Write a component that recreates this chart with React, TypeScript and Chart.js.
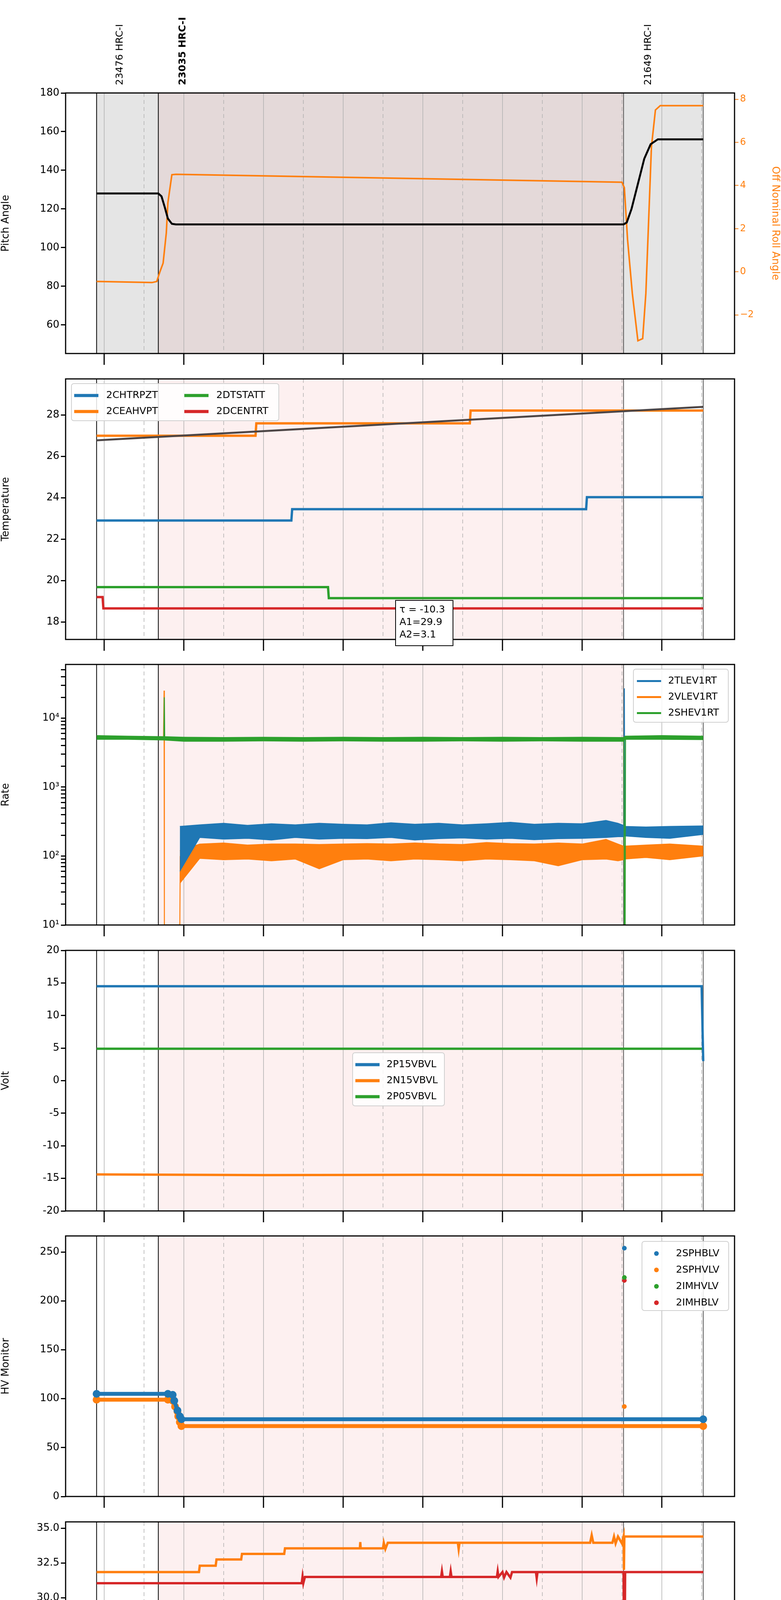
import React, { useEffect, useRef } from "react";
import { Chart, registerables } from "chart.js";
Chart.register(...registerables);

const FONT = "'DejaVu Sans', sans-serif";
const BLUE = "#1f77b4", ORANGE = "#ff7f0e", GREEN = "#2ca02c", RED = "#d62728";

const X_MIN = 15.516, X_MAX = 23.913;
const xTicks = [16, 16.5, 17, 17.5, 18, 18.5, 19, 19.5, 20, 20.5, 21, 21.5, 22, 22.5, 23, 23.5];
const xHourLabels = ["16h", "17h", "18h", "19h", "20h", "21h", "22h", "23h"];
const xMinorLabel = "30";
const xTitle = "2021-03-02 (061)";
const blackLines = [15.905, 16.68];
const grayLines = [22.52, 23.52];
const obsStart = 15.905, obsMid1 = 16.68, obsMid2 = 22.52, obsEnd = 23.52;
const obsLabels = ["23476 HRC-I", "23035 HRC-I", "21649 HRC-I"];
const obsLabelX = [16.2, 16.99, 22.83];
const obsLabelBold = [false, true, false];

// Panel 1
const pitch = [[15.905,128],[16.68,128],[16.72,126.5],[16.76,121],[16.8,115],[16.85,112.3],[16.9,112],[22.52,112],[22.56,113],[22.62,120],[22.7,133],[22.78,146],[22.86,153.5],[22.95,156],[23.52,156]];
const roll = [[15.905,-0.45],[16.6,-0.5],[16.66,-0.45],[16.7,0.0],[16.74,0.4],[16.78,1.8],[16.8,3.2],[16.85,4.5],[16.9,4.52],[22.5,4.15],[22.53,3.9],[22.57,1.5],[22.63,-1],[22.7,-3.2],[22.76,-3.1],[22.8,-1],[22.87,5.8],[22.92,7.5],[22.98,7.7],[23.52,7.7]];
const pitchTicks = [60, 80, 100, 120, 140, 160, 180];
const rollTicks = [-2, 0, 2, 4, 6, 8];

// Panel 2
const chtrpzt = [[15.905,22.9],[18.35,22.9],[18.36,23.45],[22.05,23.45],[22.06,24.03],[23.52,24.03]];
const ceahvpt = [[15.905,27.0],[17.9,27.0],[17.91,27.6],[20.59,27.6],[20.6,28.22],[23.52,28.22]];
const dtstatt = [[15.905,19.68],[18.81,19.68],[18.82,19.15],[23.52,19.15]];
const dcentrt = [[15.905,19.2],[15.98,19.2],[15.99,18.65],[23.52,18.65]];
const tempFit = [[15.905,26.78],[23.52,28.4]];
const tempTicks = [18, 20, 22, 24, 26, 28];
const fitText = ["\u03c4 = -10.3", "A1=29.9", "A2=3.1"];

// Panel 3 (rate envelopes, min/max)
const tlevT = [16.95,17.2,17.5,17.8,18.1,18.4,18.7,19.0,19.3,19.6,19.9,20.2,20.5,20.8,21.1,21.4,21.7,22.0,22.3,22.45,22.52,22.53,22.8,23.1,23.52];
const tlevHi = [270,285,300,280,295,285,300,290,285,305,290,300,285,295,310,290,300,295,330,300,280,270,265,270,275];
const tlevLo = [60,185,175,180,170,185,175,180,178,185,170,178,182,175,180,172,178,180,185,190,190,195,185,180,205];
const vlevHi = [120,150,155,145,150,150,148,150,152,150,155,150,148,158,152,150,155,150,175,150,140,140,145,150,140];
const vlevLo = [40,92,88,90,85,90,65,88,90,85,90,88,85,90,88,85,72,88,90,85,88,90,95,88,100];
const shevT = [15.905,16.3,16.75,17.0,17.5,18.0,18.5,19.0,19.5,20.0,20.5,21.0,21.5,22.0,22.52,22.54,23.0,23.52];
const shevHi = [5600,5500,5400,5300,5250,5300,5250,5300,5250,5300,5250,5300,5250,5300,5250,5500,5600,5500];
const shevLo = [4900,4900,4800,4600,4600,4650,4600,4650,4600,4600,4650,4600,4650,4600,4600,4900,4900,4850];
const vlevSpike = [[16.745,5000],[16.752,25000],[16.756,10],[16.95,10],[16.955,100]];
const shevSpike = [[16.75,5000],[16.755,20000],[16.76,5000]];
const tlevSpike = [[22.525,250],[22.53,27000],[22.535,250]];
const shevDrop = [[22.525,5000],[22.53,10],[22.54,10],[22.545,5000]];
const rateTicks = [10,20,30,40,50,60,70,80,90,100,200,300,400,500,600,700,800,900,1000,2000,3000,4000,5000,6000,7000,8000,9000,10000,20000,30000,40000,50000];
const rateLabels: Record<number, string> = { 10: "10\u00b9", 100: "10\u00b2", 1000: "10\u00b3", 10000: "10\u2074" };

// Panel 4
const p15 = [[15.905,14.5],[23.5,14.5],[23.52,3.0]];
const n15 = [[15.905,-14.4],[18.0,-14.5],[20.0,-14.45],[22.0,-14.5],[23.52,-14.45]];
const p05 = [[15.905,4.9],[23.52,4.9]];
const voltTicks = [-20, -15, -10, -5, 0, 5, 10, 15, 20];

// Panel 5
const sphblv = [[15.905,105],[16.8,105],[16.86,104],[16.88,98],[16.92,88],[16.95,82],[16.97,79],[23.52,79]];
const sphvlv = [[15.905,99],[16.8,99],[16.86,98],[16.89,92],[16.92,87],[16.93,82],[16.95,76],[16.97,72],[23.52,72]];
const sphblvOut = [[22.53,254]];
const sphvlvOut = [[22.53,92]];
const imhvlv = [[22.53,224]];
const imhblv = [[22.53,221]];
const hvTicks = [0, 50, 100, 150, 200, 250];

// Panel 6
const spinatm = [[15.905,18.25],[16.66,18.25],[16.67,17.65],[18.0,17.65],[18.01,18.2],[18.05,17.7],[18.08,18.25],[18.12,17.7],[18.15,18.2],[18.28,18.2],[18.29,17.5],[18.3,18.25],[22.52,18.25],[22.525,16.7],[22.535,16.7],[22.54,18.25],[23.52,18.25]];
const sphvatm = [[15.905,31.85],[17.19,31.85],[17.2,32.3],[17.4,32.3],[17.41,32.75],[17.72,32.75],[17.73,33.15],[18.26,33.15],[18.27,33.55],[19.21,33.55],[19.215,34.0],[19.22,33.55],[19.5,33.55],[19.51,33.95],[19.53,33.5],[19.56,33.95],[20.44,33.95],[20.45,33.5],[20.46,33.95],[22.1,33.95],[22.12,34.5],[22.14,33.95],[22.38,33.95],[22.4,34.4],[22.42,33.9],[22.45,34.4],[22.5,33.9],[22.52,34.4],[22.525,32.0],[22.53,34.4],[23.52,34.4]];
const iminatm = [[15.905,19.6],[17.95,19.6],[17.96,18.85],[17.97,19.6],[18.5,19.6],[18.52,18.9],[18.55,19.65],[18.58,18.9],[18.6,19.65],[18.63,18.9],[18.66,19.65],[18.7,18.9],[18.74,19.65],[18.78,18.9],[18.82,19.6],[18.85,18.9],[22.52,18.9],[22.535,21.0],[22.55,18.9],[23.52,18.9]];
const imhvatm = [[15.905,31.05],[18.48,31.05],[18.49,31.5],[18.5,31.05],[18.52,31.5],[20.23,31.5],[20.24,31.9],[20.25,31.5],[20.34,31.5],[20.35,31.9],[20.36,31.5],[20.93,31.5],[20.94,31.9],[20.95,31.5],[21.0,31.85],[21.02,31.45],[21.05,31.85],[21.1,31.45],[21.12,31.85],[21.42,31.85],[21.43,31.4],[21.44,31.85],[22.52,31.85],[22.53,22.6],[22.54,31.85],[23.52,31.85]];
const detTicks = [17.5, 20, 22.5, 25, 27.5, 30, 32.5, 35];

// Panel 7
const fhtrmzt = [[15.905,22.35],[17.5,22.35],[17.51,21.8],[19.12,21.8],[19.13,21.25],[21.78,21.25],[21.79,20.7],[23.28,20.7],[23.29,21.25],[23.52,21.25]];
const fradpyt = [[15.905,17.65],[17.17,17.65],[17.18,17.15],[18.06,17.15],[18.07,16.67],[19.69,16.67],[19.7,16.18],[23.17,16.18],[23.18,16.67],[23.52,16.67]];
const fepratm = [[15.905,23.87],[18.85,23.87],[18.86,23.13],[22.48,23.13],[22.49,22.4],[22.5,23.13],[22.7,23.13],[22.71,22.4],[22.73,23.13],[22.76,22.4],[22.79,23.13],[22.82,22.4],[22.84,23.13],[22.9,23.13],[22.91,22.4],[22.93,23.13],[23.52,23.13]];
const fe00atm = [[15.905,22.33],[17.02,22.33],[17.03,22.0],[17.06,22.0],[17.07,21.7],[17.08,22.0],[17.1,22.0],[17.11,20.1],[17.12,22.0],[17.15,22.0],[17.16,21.4],[17.17,22.0],[17.42,22.0],[17.43,23.65],[17.44,22.0],[17.45,21.4],[17.46,22.0],[17.75,22.0],[17.76,22.65],[17.77,22.0],[18.05,22.0],[18.06,21.7],[18.1,22.0],[18.12,21.73],[18.14,21.4],[18.15,21.73],[18.35,21.73],[18.36,22.05],[18.37,21.73],[18.44,21.73],[18.45,19.85],[18.46,21.73],[18.5,21.73],[18.51,22.35],[18.52,21.73],[18.57,21.73],[18.58,23.0],[18.59,21.73],[18.75,21.73],[18.76,23.0],[18.77,21.73],[18.9,21.73],[18.91,22.05],[18.92,21.73],[19.05,21.73],[19.06,20.75],[19.07,21.73],[19.15,21.73],[19.16,21.4],[19.17,21.73],[19.35,21.73],[19.36,21.3],[19.37,21.73],[19.43,21.73],[19.44,20.8],[19.45,21.4],[19.55,21.4],[19.56,20.45],[19.57,21.4],[20.0,21.4],[20.01,22.35],[20.02,21.4],[20.04,21.4],[20.05,20.45],[20.06,21.4],[20.45,21.4],[20.47,22.35],[20.49,21.4],[20.95,21.4],[20.96,21.05],[20.97,21.4],[21.1,21.4],[21.11,21.05],[21.12,21.4],[21.18,21.4],[21.19,22.65],[21.2,21.1],[21.37,21.1],[21.38,20.45],[21.39,21.1],[21.43,21.1],[21.44,21.4],[21.45,21.1],[22.15,21.1],[22.16,20.75],[22.17,21.4],[22.18,21.1],[22.25,21.1],[22.26,22.35],[22.27,21.1],[22.37,21.1],[22.38,21.7],[22.39,21.1],[22.53,21.1],[22.54,25.5],[22.55,21.1],[22.82,21.1],[22.83,21.7],[22.84,21.1],[23.5,21.1],[23.52,21.45]];
const feaTicks = [16, 18, 20, 22, 24];

const pts = (a: any[]) => a.map(([x, y]) => ({ x, y }));
const zip = (t: number[], v: number[]) => t.map((x, i) => [x, v[i]]);

const line = (label: string, data: any, color: string, w = 6, extra: any = {}) => ({
  label, data: pts(data), borderColor: color, backgroundColor: color, borderWidth: w,
  pointRadius: 0, tension: 0, fill: false, ...extra,
});

type Leg = { items: { label: string; color: string; dot?: boolean; w?: number }[]; x: number; y: number; w: number; h: number; cols: number; colW: number; rowH: number; lineX: number; textX: number };

function tickBuilder(vals: number[]) {
  return (s: any) => { s.ticks = vals.map((v) => ({ value: v })); };
}

function makeDeco(p: any) {
  return {
    id: "deco",
    beforeDatasetsDraw(chart: any) {
      const { ctx, chartArea: a, scales } = chart;
      const x = scales.x;
      const px = (v: number) => x.getPixelForValue(v);
      ctx.save();
      if (p.top) {
        ctx.fillStyle = "#e5e5e5";
        ctx.fillRect(px(obsStart), a.top, px(obsMid1) - px(obsStart), a.bottom - a.top);
        ctx.fillRect(px(obsMid2), a.top, px(obsEnd) - px(obsMid2), a.bottom - a.top);
        ctx.fillStyle = "#e4d9d9";
        ctx.fillRect(px(obsMid1), a.top, px(obsMid2) - px(obsMid1), a.bottom - a.top);
      } else {
        ctx.fillStyle = "#fdf0f0";
        ctx.fillRect(px(obsMid1), a.top, px(obsMid2) - px(obsMid1), a.bottom - a.top);
      }
      xTicks.forEach((v) => {
        ctx.beginPath();
        ctx.strokeStyle = "#b0b0b0";
        ctx.lineWidth = 1.5;
        ctx.setLineDash(v % 1 === 0 ? [] : [10, 8]);
        ctx.moveTo(px(v), a.top); ctx.lineTo(px(v), a.bottom); ctx.stroke();
      });
      ctx.setLineDash([]);
      blackLines.forEach((v) => {
        ctx.beginPath(); ctx.strokeStyle = "#000"; ctx.lineWidth = 2;
        ctx.moveTo(px(v), a.top); ctx.lineTo(px(v), a.bottom); ctx.stroke();
      });
      grayLines.forEach((v) => {
        ctx.beginPath(); ctx.strokeStyle = "#555"; ctx.lineWidth = 2;
        ctx.moveTo(px(v), a.top); ctx.lineTo(px(v), a.bottom); ctx.stroke();
      });
      ctx.restore();
    },
    afterDatasetsDraw(chart: any) {
      const { ctx, chartArea: a, scales } = chart;
      ctx.save();
      ctx.strokeStyle = "#000"; ctx.lineWidth = 3;
      ctx.strokeRect(a.left, a.top, a.right - a.left, a.bottom - a.top);
      xTicks.forEach((v) => {
        if (v % 1 !== 0) return;
        const xx = scales.x.getPixelForValue(v);
        ctx.beginPath(); ctx.lineWidth = 3; ctx.strokeStyle = "#000";
        ctx.moveTo(xx, a.bottom); ctx.lineTo(xx, a.bottom + 29); ctx.stroke();
      });
      if (p.top) {
        obsLabels.forEach((t, i) => {
          ctx.save();
          ctx.translate(scales.x.getPixelForValue(obsLabelX[i]), a.top - 20);
          ctx.rotate(-Math.PI / 2);
          ctx.font = (obsLabelBold[i] ? "bold " : "") + "25px " + FONT;
          ctx.fillStyle = "#000"; ctx.textAlign = "left"; ctx.textBaseline = "middle";
          ctx.fillText(t, 0, 0);
          ctx.restore();
        });
      }
      if (p.fitBox) {
        const b = p.fitBox;
        ctx.fillStyle = "#fff"; ctx.fillRect(b.x, b.y, b.w, b.h);
        ctx.strokeStyle = "#000"; ctx.lineWidth = 2; ctx.strokeRect(b.x, b.y, b.w, b.h);
        ctx.fillStyle = "#000"; ctx.font = "25px " + FONT; ctx.textBaseline = "middle"; ctx.textAlign = "left";
        fitText.forEach((t, i) => ctx.fillText(t, b.x + 10, b.y + 24 + i * 32));
      }
      const L: Leg = p.legend;
      if (L) {
        ctx.fillStyle = "rgba(255,255,255,0.85)";
        ctx.strokeStyle = "#d0d0d0"; ctx.lineWidth = 2;
        ctx.beginPath();
        (ctx as any).roundRect ? (ctx as any).roundRect(L.x, L.y, L.w, L.h, 6) : ctx.rect(L.x, L.y, L.w, L.h);
        ctx.fill(); ctx.stroke();
        const rows = Math.ceil(L.items.length / L.cols);
        L.items.forEach((it, i) => {
          const col = Math.floor(i / rows), row = i % rows;
          const yy = L.y + L.rowH / 2 + 10 + row * L.rowH;
          const lx = L.lineX + col * L.colW;
          ctx.fillStyle = it.color; ctx.strokeStyle = it.color;
          if (it.dot) {
            ctx.beginPath(); ctx.arc(lx + 8, yy, 6, 0, Math.PI * 2); ctx.fill();
          } else {
            ctx.lineWidth = it.w || 8;
            ctx.beginPath(); ctx.moveTo(lx, yy); ctx.lineTo(lx + 62, yy); ctx.stroke();
          }
          ctx.fillStyle = "#000"; ctx.font = "25px " + FONT; ctx.textBaseline = "middle"; ctx.textAlign = "left";
          ctx.fillText(it.label, L.textX + col * L.colW, yy);
        });
      }
      ctx.restore();
    },
  };
}

function yScale(title: string, ticks: number[], min: number, max: number, extra: any = {}, fmt?: (v: number) => string) {
  return {
    type: "linear", position: "left", min, max,
    afterBuildTicks: tickBuilder(ticks),
    afterFit: (s: any) => { s.width = 168; },
    grid: { drawOnChartArea: false, drawTicks: true, tickLength: 12, tickWidth: 3, tickColor: "#000" },
    border: { display: false },
    ticks: { color: "#000", font: { family: FONT, size: 26 }, padding: 4, autoSkip: false, callback: (v: number) => (fmt ? fmt(v) : String(v)) },
    title: { display: true, text: title, color: "#000", font: { family: FONT, size: 26 }, padding: { top: 0, bottom: 4 } },
    ...extra,
  };
}

function xScale(last: boolean, axisH: number) {
  return {
    type: "linear", min: X_MIN, max: X_MAX,
    afterBuildTicks: tickBuilder(xTicks),
    afterFit: (s: any) => { s.height = axisH; },
    grid: { drawOnChartArea: false, drawTicks: true, tickLength: 8, tickWidth: 0, tickColor: "rgba(0,0,0,0)" },
    border: { display: false },
    ticks: {
      display: last, autoSkip: false, maxRotation: 0, color: "#000", padding: 0,
      font: (c: any) => (c.tick && c.tick.value % 1 === 0 ? { family: FONT, size: 27, lineHeight: 1.05 } : { family: FONT, size: 17 }),
      callback: (v: number) => (v % 1 === 0 ? ["", xHourLabels[v - 16]] : xMinorLabel),
    },
    title: { display: last, text: xTitle, color: "#000", font: { family: FONT, size: 34 }, padding: { top: 0, bottom: 4 } },
  };
}

const PLOT_H = 667;
const panels: any[] = [
  {
    key: "p1", top: true, plotTop: 238, canvasTop: 0, axisH: 73,
    datasets: [line("pitch", pitch, "#000", 5, { yAxisID: "y" }), line("roll", roll, ORANGE, 4, { yAxisID: "y2" })],
    y: yScale("Pitch Angle", pitchTicks, 45.2, 180),
    y2: {
      type: "linear", position: "right", min: -3.79, max: 8.29,
      afterBuildTicks: tickBuilder(rollTicks),
      afterFit: (s: any) => { s.width = 119; },
      grid: { drawOnChartArea: false, drawTicks: true, tickLength: 10, tickWidth: 2, tickColor: ORANGE },
      border: { display: false },
      ticks: { color: ORANGE, font: { family: FONT, size: 24 }, padding: 4, callback: (v: number) => (v < 0 ? "\u2212" + -v : String(v)) },
      title: { display: true, text: "Off Nominal Roll Angle", color: ORANGE, font: { family: FONT, size: 26 }, padding: 0 },
    },
  },
  {
    key: "p2", plotTop: 970, axisH: 73,
    datasets: [line("fit", tempFit, "#4d4646", 5), line("2CHTRPZT", chtrpzt, BLUE), line("2CEAHVPT", ceahvpt, ORANGE), line("2DTSTATT", dtstatt, GREEN), line("2DCENTRT", dcentrt, RED)],
    y: yScale("Temperature", tempTicks, 17.15, 29.75),
    legend: { items: [{ label: "2CHTRPZT", color: BLUE }, { label: "2CEAHVPT", color: ORANGE }, { label: "2DTSTATT", color: GREEN }, { label: "2DCENTRT", color: RED }], x: 183, y: 982, w: 531, h: 95, cols: 2, colW: 282, rowH: 41, lineX: 190, textX: 272 },
    fitBox: { x: 1013, y: 1537, w: 147, h: 116 },
  },
  {
    key: "p3", plotTop: 1701, axisH: 73,
    datasets: [
      { ...line("shevHi", zip(shevT, shevHi), GREEN, 1.5), fill: "+1", backgroundColor: GREEN },
      line("shevLo", zip(shevT, shevLo), GREEN, 1.5),
      line("shevSpike", shevSpike, GREEN, 2.5),
      line("shevDrop", shevDrop, GREEN, 2.5),
      { ...line("tlevHi", zip(tlevT, tlevHi), BLUE, 1.5), fill: "+1", backgroundColor: BLUE },
      line("tlevLo", zip(tlevT, tlevLo), BLUE, 1.5),
      line("tlevSpike", tlevSpike, BLUE, 2.5),
      { ...line("vlevHi", zip(tlevT, vlevHi), ORANGE, 1.5), fill: "+1", backgroundColor: ORANGE },
      line("vlevLo", zip(tlevT, vlevLo), ORANGE, 1.5),
      line("vlevSpike", vlevSpike, ORANGE, 2.5),
    ],
    y: yScale("Rate", rateTicks, 10, 60000, { type: "logarithmic" }, (v) => rateLabels[v] || ""),
    legend: { items: [{ label: "2TLEV1RT", color: BLUE, w: 5 }, { label: "2VLEV1RT", color: ORANGE, w: 5 }, { label: "2SHEV1RT", color: GREEN, w: 5 }], x: 1622, y: 1713, w: 243, h: 136, cols: 1, colW: 0, rowH: 41, lineX: 1631, textX: 1711 },
  },
  {
    key: "p4", plotTop: 2433, axisH: 73,
    datasets: [line("2P15VBVL", p15, BLUE), line("2N15VBVL", n15, ORANGE), line("2P05VBVL", p05, GREEN)],
    y: yScale("Volt", voltTicks, -20, 20),
    legend: { items: [{ label: "2P15VBVL", color: BLUE }, { label: "2N15VBVL", color: ORANGE }, { label: "2P05VBVL", color: GREEN }], x: 903, y: 2695, w: 235, h: 136, cols: 1, colW: 0, rowH: 41, lineX: 910, textX: 990 },
  },
  {
    key: "p5", plotTop: 3164, axisH: 73,
    datasets: [
      line("2SPHBLV", sphblv, BLUE, 10, { pointRadius: 5 }),
      line("2SPHVLV", sphvlv, ORANGE, 10, { pointRadius: 5 }),
      line("2SPHBLVo", sphblvOut, BLUE, 0, { pointRadius: 6 }),
      line("2SPHVLVo", sphvlvOut, ORANGE, 0, { pointRadius: 6 }),
      line("2IMHVLV", imhvlv, GREEN, 0, { pointRadius: 6 }),
      line("2IMHBLV", imhblv, RED, 0, { pointRadius: 6 }),
    ],
    y: yScale("HV Monitor", hvTicks, 0, 266.5),
    legend: { items: [{ label: "2SPHBLV", color: BLUE, dot: true }, { label: "2SPHVLV", color: ORANGE, dot: true }, { label: "2IMHVLV", color: GREEN, dot: true }, { label: "2IMHBLV", color: RED, dot: true }], x: 1644, y: 3178, w: 222, h: 177, cols: 1, colW: 0, rowH: 42, lineX: 1673, textX: 1731 },
  },
  {
    key: "p6", plotTop: 3896, axisH: 73,
    datasets: [line("2SPINATM", spinatm, BLUE), line("2SPHVATM", sphvatm, ORANGE), line("2IMINATM", iminatm, GREEN), line("2IMHVATM", imhvatm, RED)],
    y: yScale("Detector Temp", detTicks, 16.75, 35.45, {}, (v) => v.toFixed(1)),
    legend: { items: [{ label: "2SPINATM", color: BLUE }, { label: "2SPHVATM", color: ORANGE }, { label: "2IMINATM", color: GREEN }, { label: "2IMHVATM", color: RED }], x: 1618, y: 4141, w: 248, h: 176, cols: 1, colW: 0, rowH: 42, lineX: 1626, textX: 1705 },
  },
  {
    key: "p7", plotTop: 4627, axisH: 106, last: true,
    datasets: [line("2FHTRMZT", fhtrmzt, BLUE), line("2FRADPYT", fradpyt, ORANGE), line("2FEPRATM", fepratm, GREEN), line("2FE00ATM", fe00atm, RED)],
    y: yScale("FEA Temp", feaTicks, 14.68, 25.39),
    legend: { items: [{ label: "2FHTRMZT", color: BLUE }, { label: "2FRADPYT", color: ORANGE }, { label: "2FEPRATM", color: GREEN }, { label: "2FE00ATM", color: RED }], x: 183, y: 4872, w: 253, h: 178, cols: 1, colW: 0, rowH: 42, lineX: 190, textX: 272 },
  },
];

function Panel({ p }: { p: any }) {
  const ref = useRef<HTMLCanvasElement>(null);
  const canvasTop = p.canvasTop !== undefined ? p.canvasTop : p.plotTop - 60;
  const padTop = p.plotTop - canvasTop;
  const height = padTop + PLOT_H + p.axisH;
  useEffect(() => {
    const shift = (o: any) => (o ? { ...o, y: o.y - canvasTop } : o);
    const deco = makeDeco({ top: p.top, legend: shift(p.legend), fitBox: shift(p.fitBox) });
    const scales: any = { x: xScale(!!p.last, p.axisH), y: p.y };
    if (p.y2) scales.y2 = p.y2;
    const chart = new Chart(ref.current as HTMLCanvasElement, {
      type: "line",
      data: { datasets: p.datasets },
      options: {
        responsive: false, devicePixelRatio: 1, animation: false,
        layout: { padding: { top: padTop, left: 0, right: p.y2 ? 0 : 119, bottom: 0 } },
        plugins: { legend: { display: false }, tooltip: { enabled: false } },
        scales,
      } as any,
      plugins: [deco],
    });
    return () => chart.destroy();
  }, []);
  return (
    <canvas ref={ref} width={2000} height={height}
      style={{ position: "absolute", left: 0, top: canvasTop, width: 2000, height }} />
  );
}

export default function App() {
  return (
    <div style={{ position: "absolute", left: 0, top: 0, width: 2000, height: 5400, background: "#fff" }}>
      {panels.map((p) => <Panel key={p.key} p={p} />)}
    </div>
  );
}
